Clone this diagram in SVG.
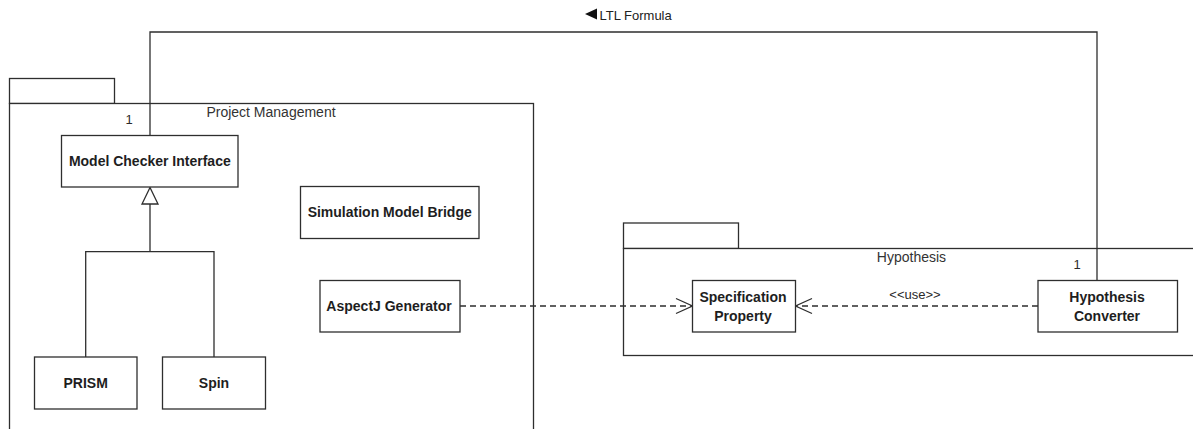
<svg xmlns="http://www.w3.org/2000/svg" width="1193" height="429" viewBox="0 0 1193 429">
<defs>
<style>
.pkg{fill:#ffffff;stroke:#2e2e2e;stroke-width:1.3}
.cls{fill:#ffffff;stroke:#2e2e2e;stroke-width:1.3}
.ln{fill:none;stroke:#2e2e2e;stroke-width:1.3}
.dash{fill:none;stroke:#2e2e2e;stroke-width:1.3;stroke-dasharray:6,4}
.head{fill:none;stroke:#2e2e2e;stroke-width:1.3}
.cname{font-family:"Liberation Sans",Arial,sans-serif;font-size:14px;font-weight:bold;fill:#1e1e1e;text-anchor:middle}
.pname{font-family:"Liberation Sans",Arial,sans-serif;font-size:14px;fill:#333333;text-anchor:middle}
.lbl{font-family:"Liberation Sans",Arial,sans-serif;font-size:13px;fill:#2a2a2a;text-anchor:middle}
</style>
</defs>
<rect x="0" y="0" width="1193" height="429" fill="#ffffff"/>

<g id="pkg-project-management">
<rect class="pkg" x="9.5" y="78.5" width="105" height="25"/>
<rect class="pkg" x="9.5" y="103.5" width="524" height="340"/>
<text class="pname" x="271" y="117">Project Management</text>
</g>

<g id="pkg-hypothesis">
<rect class="pkg" x="623.5" y="223" width="115" height="25.5"/>
<rect class="pkg" x="623.5" y="248.5" width="580" height="107"/>
<text class="pname" x="911.5" y="262">Hypothesis</text>
</g>

<g id="connectors">
<path class="ln" d="M150 135.5 V32 H1097 V280.5"/>
<polygon points="585,14 597,8.5 597,19.5" fill="#111111"/>
<text x="599.5" y="19.5" font-family="Liberation Sans, Arial, sans-serif" font-size="13" fill="#222222">LTL Formula</text>
<text class="lbl" x="129" y="124">1</text>
<text class="lbl" x="1077" y="269">1</text>
<path class="ln" d="M85.7 357 V251.7 H214 V357 M150 251.7 V204"/>
<polygon class="ln" points="150,187.5 142,204 158,204" fill="#ffffff"/>
<line class="dash" x1="460" y1="306" x2="692" y2="306"/>
<path class="head" d="M676 298.5 L692.5 306 L676 313.5"/>
<line class="dash" x1="1038" y1="306" x2="796" y2="306"/>
<path class="head" d="M812 298.5 L795.5 306 L812 313.5"/>
<text class="lbl" x="915" y="298.5" fill="#444444">&lt;&lt;use&gt;&gt;</text>
</g>

<g id="cls-model-checker-interface">
<rect class="cls" x="61.5" y="135.5" width="176.5" height="51.5"/>
<text class="cname" x="149.8" y="166">Model Checker Interface</text>
</g>

<g id="cls-prism">
<rect class="cls" x="34.5" y="357" width="102.5" height="52"/>
<text class="cname" x="85.7" y="388">PRISM</text>
</g>

<g id="cls-spin">
<rect class="cls" x="162.5" y="357" width="103" height="52"/>
<text class="cname" x="214" y="388">Spin</text>
</g>

<g id="cls-simulation-model-bridge">
<rect class="cls" x="300.5" y="186.5" width="178.5" height="52"/>
<text class="cname" x="389.7" y="217">Simulation Model Bridge</text>
</g>

<g id="cls-aspectj-generator">
<rect class="cls" x="320" y="280.5" width="140" height="51.5"/>
<text class="cname" x="389" y="311">AspectJ Generator</text>
</g>

<g id="cls-specification-property">
<rect class="cls" x="692.5" y="280.5" width="103" height="51.5"/>
<text class="cname" x="743" y="301.5">Specification</text>
<text class="cname" x="743" y="321">Property</text>
</g>

<g id="cls-hypothesis-converter">
<rect class="cls" x="1038" y="280.5" width="139.5" height="51.5"/>
<text class="cname" x="1107" y="301.5">Hypothesis</text>
<text class="cname" x="1107" y="321">Converter</text>
</g>
</svg>
